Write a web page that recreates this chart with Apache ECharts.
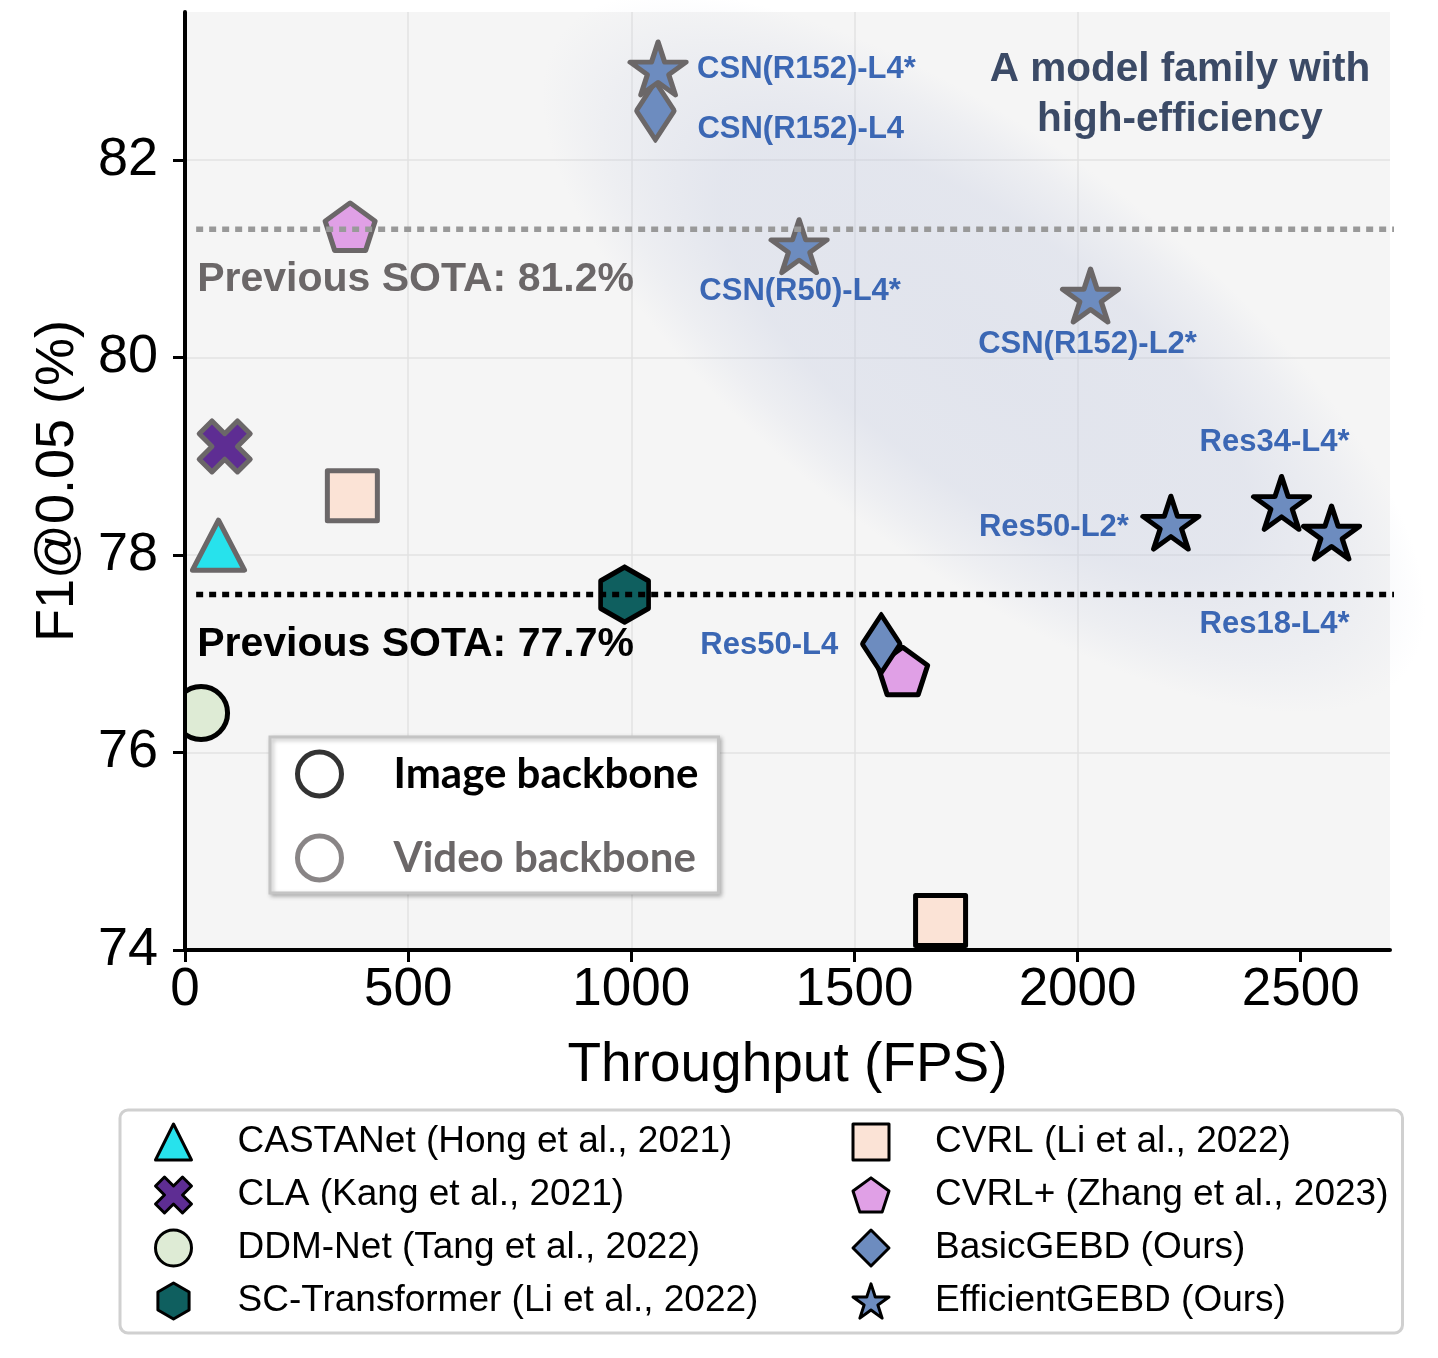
<!DOCTYPE html>
<html><head><meta charset="utf-8">
<script src="https://cdn.jsdelivr.net/npm/echarts@6/dist/echarts.min.js"></script>
<style>html,body{margin:0;padding:0;background:#fff}#c{width:1438px;height:1358px}</style>
</head><body><div id="c"></div>
<script>
// ---------------- data ----------------
const xTicks = [0, 500, 1000, 1500, 2000, 2500];
const yTicks = [74, 76, 78, 80, 82];
// [throughput (FPS), F1@0.05 (%), backbone, label]
const CASTANet = [[75, 78.1, 'video']];
const CLA = [[89, 79.1, 'video']];
const DDMNet = [[36, 76.4, 'image']];
const SCTransformer = [[985, 77.6, 'image']];
const CVRL = [[375, 78.6, 'video'], [1693, 74.3, 'image']];
const CVRLplus = [[370, 81.3, 'video'], [1608, 76.8, 'image']];
const BasicGEBD = [[1054, 82.5, 'video', 'CSN(R152)-L4'], [1560, 77.1, 'image', 'Res50-L4']];
const EfficientGEBD = [
  [1060, 82.9, 'video', 'CSN(R152)-L4*'],
  [1376, 81.1, 'video', 'CSN(R50)-L4*'],
  [2029, 80.6, 'video', 'CSN(R152)-L2*'],
  [2209, 78.3, 'image', 'Res50-L2*'],
  [2457, 78.5, 'image', 'Res34-L4*'],
  [2569, 78.2, 'image', 'Res18-L4*']
];
const sotaLevels = [81.3, 77.6];
const sotaTexts = ['Previous SOTA: 81.2%', 'Previous SOTA: 77.7%'];
const sotaSpan = [25, 2720];
const seriesNames = [
  'CASTANet (Hong et al., 2021)', 'CLA (Kang et al., 2021)', 'DDM-Net (Tang et al., 2022)',
  'SC-Transformer (Li et al., 2022)', 'CVRL (Li et al., 2022)', 'CVRL+ (Zhang et al., 2023)',
  'BasicGEBD (Ours)', 'EfficientGEBD (Ours)'
];
const backboneNames = ['Image backbone', 'Video backbone'];
const annotation = 'A model family with\nhigh-efficiency';
const shadeCenter = [1790, 80.05];

// ---------------- styles ----------------
const FONT = '"Liberation Sans", Arial, Helvetica, sans-serif';
const GRAY = '#6b6768';
const BLUE = '#3b67b4';
const STAR = 'path://M100,0 L122.45,69.1 L195.1,69.1 L136.33,111.8 L158.8,180.9 L100,138.2 L41.2,180.9 L63.67,111.8 L4.9,69.1 L77.55,69.1 Z';
const PENTAGON = 'path://M100,0 L195.1,69.1 L158.8,180.9 L41.2,180.9 L4.9,69.1 Z';
const HEXAGON = 'path://M86.6,0 L173.2,50 L173.2,150 L86.6,200 L0,150 L0,50 Z';
const XMARK = 'path://M44.14,1.72 L58.28,15.86 L44.14,30 L58.28,44.14 L44.14,58.28 L30,44.14 L15.86,58.28 L1.72,44.14 L15.86,30 L1.72,15.86 L15.86,1.72 L30,15.86 Z';

const labelPlace = {
  'CSN(R152)-L4*': {align: 'left', offset: [39, 1]},
  'CSN(R152)-L4': {align: 'left', offset: [42, 19]},
  'CSN(R50)-L4*': {align: 'center', offset: [1, 45]},
  'CSN(R152)-L2*': {align: 'center', offset: [-3, 49]},
  'Res50-L2*': {align: 'right', offset: [-42, 5]},
  'Res34-L4*': {align: 'center', offset: [-7, -60]},
  'Res18-L4*': {align: 'center', offset: [-57, 92]},
  'Res50-L4': {align: 'right', offset: [-43, 2]}
};

function toItems(arr) {
  return arr.map(d => {
    const item = {value: [d[0], d[1]], itemStyle: {borderColor: d[2] === 'video' ? GRAY : '#000'}};
    if (d[3]) {
      const p = labelPlace[d[3]];
      item.label = {show: true, formatter: d[3], position: 'inside', align: p.align, verticalAlign: 'middle', offset: p.offset};
    }
    return item;
  });
}

function scatter(name, arr, symbol, size, fill, extra) {
  return Object.assign({
    type: 'scatter', name: name, data: toItems(arr), symbol: symbol, symbolSize: size,
    itemStyle: {color: fill, borderColor: '#000', borderWidth: 5, borderJoin: 'round', opacity: 1},
    label: {show: false, fontFamily: FONT, fontSize: 31, fontWeight: 'bold', color: BLUE},
    emphasis: {disabled: true}, z: 2
  }, extra || {});
}

const series = [
  scatter(seriesNames[0], CASTANet, 'triangle', [52, 50], '#27e2ec'),
  scatter(seriesNames[1], CLA, XMARK, [51, 51], '#5e2d93'),
  scatter(seriesNames[2], DDMNet, 'circle', 53, '#deebd5'),
  scatter(seriesNames[3], SCTransformer, HEXAGON, [48, 55], '#0f5f5f'),
  scatter(seriesNames[4], CVRL, 'rect', [50, 50], '#fbe3d6'),
  scatter(seriesNames[5], CVRLplus, PENTAGON, [50, 47.6], '#e0a0e6', {symbolOffset: [0, '-5.3%']}),
  scatter(seriesNames[6], BasicGEBD, 'diamond', [38, 58], '#6d8cbf'),
  scatter(seriesNames[7], EfficientGEBD, STAR, [56, 53], '#6d8cbf', {symbolOffset: [0, '-5.3%']}),
  {type: 'scatter', name: backboneNames[0], data: []},
  {type: 'scatter', name: backboneNames[1], data: []},
  {
    type: 'line', name: 'sota-video', data: sotaSpan.map(x => [x, sotaLevels[0]]), symbol: 'none', clip: false, silent: true, z: 3,
    lineStyle: {color: '#999999', width: 5.5, type: [7, 6], cap: 'butt'}
  },
  {
    type: 'line', name: 'sota-image', data: sotaSpan.map(x => [x, sotaLevels[1]]), symbol: 'none', clip: false, silent: true, z: 3,
    lineStyle: {color: '#000', width: 5.5, type: [7, 6], cap: 'butt'}
  },
  {
    type: 'scatter', name: 'sota-labels', silent: true, z: 3, symbolSize: 1, clip: false,
    itemStyle: {color: 'rgba(0,0,0,0)', opacity: 1},
    emphasis: {disabled: true},
    data: sotaLevels.map((v, i) => ({
      value: [sotaSpan[0], v],
      label: {show: true, formatter: sotaTexts[i], position: 'inside', align: 'left', verticalAlign: 'middle', offset: [1, 50],
        fontFamily: FONT, fontSize: 41, fontWeight: 'bold', color: i === 0 ? GRAY : '#000', opacity: 1}
    }))
  }
];

// legend order (row-major, 2 columns)
const legendOrder = [0, 4, 1, 5, 2, 6, 3, 7];
const plainNum = v => String(v);

const option = {
  animation: false,
  backgroundColor: '#fff',
  textStyle: {fontFamily: FONT},
  title: {
    text: annotation, left: 1175, top: 40, textAlign: 'center',
    textStyle: {fontFamily: FONT, fontSize: 40.5, fontWeight: 'bold', color: '#3b4a66', lineHeight: 50}
  },
  grid: {left: 185, right: 48, top: 12, bottom: 408, show: true, backgroundColor: '#f5f5f5', borderWidth: 0,
    containLabel: false, outerBoundsMode: 'none'},
  xAxis: {
    type: 'value', min: 0, max: 2700, interval: 500,
    name: 'Throughput (FPS)', nameLocation: 'middle', nameGap: 88,
    nameTextStyle: {fontFamily: FONT, fontSize: 55, color: '#000'},
    axisLine: {show: true, onZero: false, lineStyle: {color: '#000', width: 4}},
    axisTick: {show: true, length: 12, lineStyle: {color: '#000', width: 3}, customValues: xTicks},
    axisLabel: {fontFamily: FONT, fontSize: 53, color: '#000', margin: 14, customValues: xTicks, formatter: plainNum},
    splitLine: {show: true, showMaxLine: false, lineStyle: {color: '#e2e2e2', width: 1.5}}
  },
  yAxis: [
    {
      type: 'value', min: 74, max: 83.5, interval: 2, position: 'left',
      axisLine: {show: false}, axisTick: {show: false}, axisLabel: {show: false},
      splitLine: {show: true, showMaxLine: false, showMinLine: false, lineStyle: {color: '#e2e2e2', width: 1.5}}
    },
    {
      type: 'value', min: 74, max: 83.5, interval: 2, position: 'left', offset: 0, z: 5,
      name: 'F1@0.05 (%)', nameLocation: 'middle', nameGap: 100,
      nameTextStyle: {fontFamily: FONT, fontSize: 54, color: '#000'},
      axisLine: {show: true, onZero: false, lineStyle: {color: '#000', width: 4}},
      axisTick: {show: true, length: 12, lineStyle: {color: '#000', width: 3}, customValues: yTicks},
      axisLabel: {fontFamily: FONT, fontSize: 54, color: '#000', margin: 27, customValues: yTicks, formatter: plainNum},
      splitLine: {show: false}
    }
  ],
  legend: [
    {
      selectedMode: false, orient: 'horizontal', left: 120, top: 1110, width: 1250,
      padding: [12, 14, 12, 34], itemGap: 13, itemWidth: 36, itemHeight: 36,
      backgroundColor: '#fff', borderColor: '#d0d0d0', borderWidth: 3, borderRadius: 8,
      itemStyle: {borderWidth: 3},
      textStyle: {fontFamily: FONT, fontSize: 37, color: '#000', lineHeight: 40, padding: [0, 0, 0, 41]},
      data: legendOrder.map((k, i) => ({name: seriesNames[k], textStyle: {width: i % 2 === 0 ? 601 : 450}}))
    },
    {
      selectedMode: false, orient: 'vertical', left: 270, top: 737,
      padding: [12, 20, 10, 25], itemGap: 34, itemWidth: 44, itemHeight: 44,
      backgroundColor: '#fff', borderColor: '#c4c4c4', borderWidth: 3,
      shadowBlur: 4, shadowColor: 'rgba(0,0,0,0.25)', shadowOffsetX: 2, shadowOffsetY: 2,
      textStyle: {fontFamily: 'Lato, "Open Sans", sans-serif', fontSize: 42, fontWeight: 'bold', lineHeight: 50, padding: [0, 0, 0, 47]},
      data: [
        {name: backboneNames[0], icon: 'circle', itemStyle: {color: 'rgba(0,0,0,0)', borderColor: '#000', borderWidth: 5}, textStyle: {color: '#000'}},
        {name: backboneNames[1], icon: 'circle', itemStyle: {color: 'rgba(0,0,0,0)', borderColor: GRAY, borderWidth: 5}, textStyle: {color: GRAY}}
      ]
    }
  ],
  series: series
};

const chart = echarts.init(document.getElementById('c'), null, {renderer: 'canvas'});
chart.setOption(option);

// decorative shaded region and left clip cover, placed through the axes
const c = chart.convertToPixel({gridIndex: 0}, shadeCenter);
const tl = chart.convertToPixel({gridIndex: 0}, [0, 83.5]);
const bl = chart.convertToPixel({gridIndex: 0}, [0, 74]);
const rb = 210, ra = 530;
chart.setOption({
  graphic: [
    {
      type: 'circle', z: 1, silent: true,
      x: c[0], y: c[1], rotation: -37 * Math.PI / 180, scaleX: ra / rb, scaleY: 1,
      shape: {cx: 0, cy: 0, r: rb},
      style: {
        fill: {
          type: 'radial', x: 0.5, y: 0.5, r: 0.5,
          colorStops: [
            {offset: 0, color: 'rgba(190,198,222,0.36)'},
            {offset: 0.6, color: 'rgba(190,198,222,0.32)'},
            {offset: 0.85, color: 'rgba(190,198,222,0.14)'},
            {offset: 1, color: 'rgba(190,198,222,0)'}
          ]
        }
      }
    },
    {
      type: 'rect', z: 4, silent: true,
      shape: {x: 0, y: tl[1], width: tl[0] - 2, height: bl[1] - tl[1]},
      style: {fill: '#fff'}
    }
  ]
});
</script>
</body></html>
